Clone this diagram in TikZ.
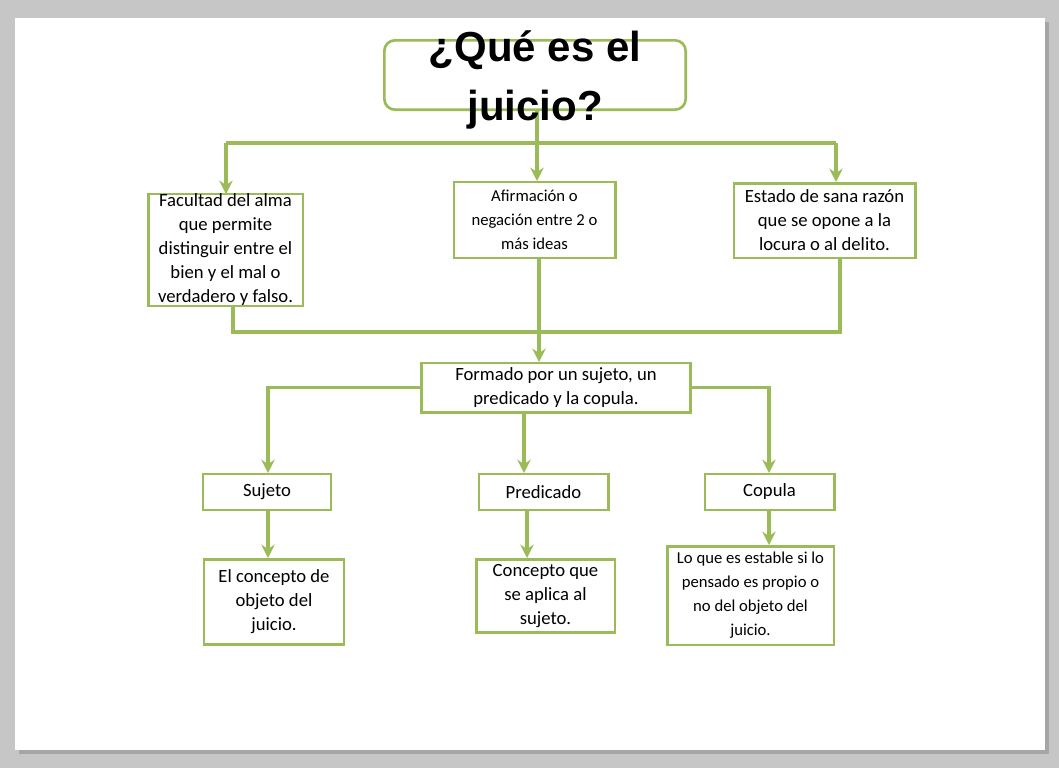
\documentclass[tikz,border=0pt]{standalone}
\usepackage{fontspec}
\setmainfont{Carlito}
\newfontfamily\titlefont{Liberation Sans}
\usetikzlibrary{arrows.meta}
\definecolor{gr}{HTML}{9BBB59}
\begin{document}
\begin{tikzpicture}[x=0.75pt,y=-0.75pt,
  box/.style={draw=gr,line width=2pt,fill=white,align=center,inner sep=0pt,font=\fontsize{14}{18}\selectfont},
  con/.style={draw=gr,line width=2.4pt},
  arr/.style={con,-{Stealth[length=10pt,width=10pt]}}]
\fill[gray!45] (0,0) rectangle (1059,768);
\fill[gray!70] (19,22) rectangle (1049,754);
\fill[white] (15,18) rectangle (1045,750);
\useasboundingbox (0,0) rectangle (1059,768);
% nodes
\node[box,rounded corners=8pt,minimum width=226pt,minimum height=52pt] (t) at (535,75) {};
\node[box,minimum width=116pt,minimum height=82pt] (a) at (225.5,250) {Facultad del alma\\que permite\\distinguir entre el\\bien y el mal o\\verdadero y falso.};
\node[box,minimum width=121pt,minimum height=57pt,font=\fontsize{12.5}{18}\selectfont] (b) at (534.5,220) {Afirmación o\\negación entre 2 o\\más ideas};
\node[box,minimum width=136pt,minimum height=56pt] (c) at (824.5,220.5) {Estado de sana razón\\que se opone a la\\locura o al delito.};
\node[box,minimum width=202pt,minimum height=37pt] (d) at (556,387.5) {Formado por un sujeto, un\\predicado y la copula.};
\node[box,minimum width=96pt,minimum height=27pt] (s) at (267,492) {Sujeto};
\node[box,minimum width=97pt,minimum height=27pt] (p) at (543.5,492) {Predicado};
\node[box,minimum width=97pt,minimum height=27pt] (k) at (769.5,492) {Copula};
\node[box,minimum width=105pt,minimum height=64pt] (s2) at (274,602) {El concepto de\\objeto del\\juicio.};
\node[box,minimum width=104pt,minimum height=55pt] (p2) at (545.5,596) {Concepto que\\se aplica al\\sujeto.};
\node[box,minimum width=125pt,minimum height=74pt,font=\fontsize{12.5}{18}\selectfont] (k2) at (750.5,595.5) {Lo que es estable si lo\\pensado es propio o\\no del objeto del\\juicio.};
% connectors
\coordinate (j) at (537,143);
\draw[con] (537,111) -- (j);
\draw[con] (226,143) -- (836,143);
\draw[arr] (226,143) -- (226,194);
\draw[arr] (j) -- (537,181);
\draw[arr] (836,143) -- (836,182);
\draw[con] (233,306) |- (840,332) -- (840,259);
\draw[arr] (539,259) -- (539,362);
\draw[arr] (d.west) -| (268,473);
\draw[arr] (d.east) -| (769,473);
\draw[arr] (524,413) -- (524,473);
\draw[arr] (268,511) -- (268,558);
\draw[arr] (527,511) -- (527,558);
\draw[arr] (769,511) -- (769,545);
\node[font=\titlefont\bfseries\fontsize{31.5}{44}\selectfont,align=center] (tt) at (535,80) {¿Qué es el\\juicio?};
\end{tikzpicture}
\end{document}
